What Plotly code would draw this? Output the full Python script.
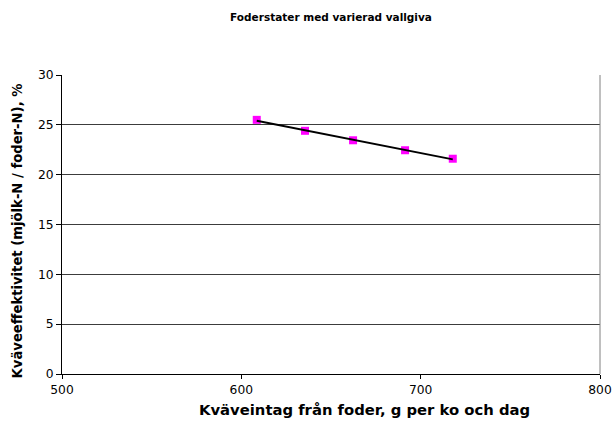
import numpy as np
import plotly.graph_objects as go

x_vals = [608.6, 635.5, 662.3, 691.3, 717.9]
y_vals = [25.5, 24.4, 23.45, 22.45, 21.6]
title = "Foderstater med varierad vallgiva"
x_title = "Kväveintag från foder, g per ko och dag"
y_title = "Kväveeffektivitet (mjölk-N / foder-N), %"
x_ticks = [500, 600, 700, 800]
y_ticks = [0, 5, 10, 15, 20, 25, 30]

slope, intercept = np.polyfit(x_vals, y_vals, 1)
fit_x = [min(x_vals), max(x_vals)]
fit_y = [slope * v + intercept for v in fit_x]

FONT = "DejaVu Sans"

fig = go.Figure()
fig.add_trace(go.Scatter(x=x_vals, y=y_vals, mode="markers",
                         marker=dict(symbol="square", size=8, color="#FF00FF"),
                         showlegend=False, cliponaxis=False))
fig.add_trace(go.Scatter(x=fit_x, y=fit_y, mode="lines",
                         line=dict(color="black", width=2), showlegend=False))

fig.update_layout(
    width=613, height=428,
    margin=dict(l=62, r=13, t=75, b=54),
    paper_bgcolor="white", plot_bgcolor="white",
    font=dict(family=FONT, color="black", size=12),
    title=dict(text="<b>" + title + "</b>", x=331 / 613, xanchor="center",
               y=1 - 17 / 428, yanchor="middle", font=dict(size=10.5, family=FONT)),
    shapes=[dict(type="line", xref="paper", yref="paper", x0=1, x1=1, y0=0, y1=1,
                 line=dict(color="#808080", width=1))],
    annotations=[
        dict(text="<b>" + x_title + "</b>", xref="paper", yref="paper",
             x=0.563, y=-0.12, xanchor="center", yanchor="middle",
             showarrow=False, font=dict(size=14.8, family=FONT)),
        dict(text="<b>" + y_title + "</b>", xref="paper", yref="paper",
             x=-0.083, y=0.478, xanchor="center", yanchor="middle", textangle=-90,
             showarrow=False, font=dict(size=13.2, family=FONT)),
    ],
)
fig.update_xaxes(range=[500, 800], tickvals=x_ticks, showgrid=False, automargin=False,
                 showline=True, linecolor="black", linewidth=1,
                 ticks="outside", ticklen=4, tickcolor="black",
                 tickfont=dict(size=12.3, family=FONT), zeroline=False)
fig.update_yaxes(range=[0, 30], tickvals=y_ticks, showgrid=True, gridcolor="#3c3c3c",
                 gridwidth=1, showline=True, linecolor="black", linewidth=1, automargin=False,
                 ticks="outside", ticklen=5, tickcolor="black",
                 tickfont=dict(size=12.3, family=FONT), zeroline=False)

fig.write_html("out.html")
